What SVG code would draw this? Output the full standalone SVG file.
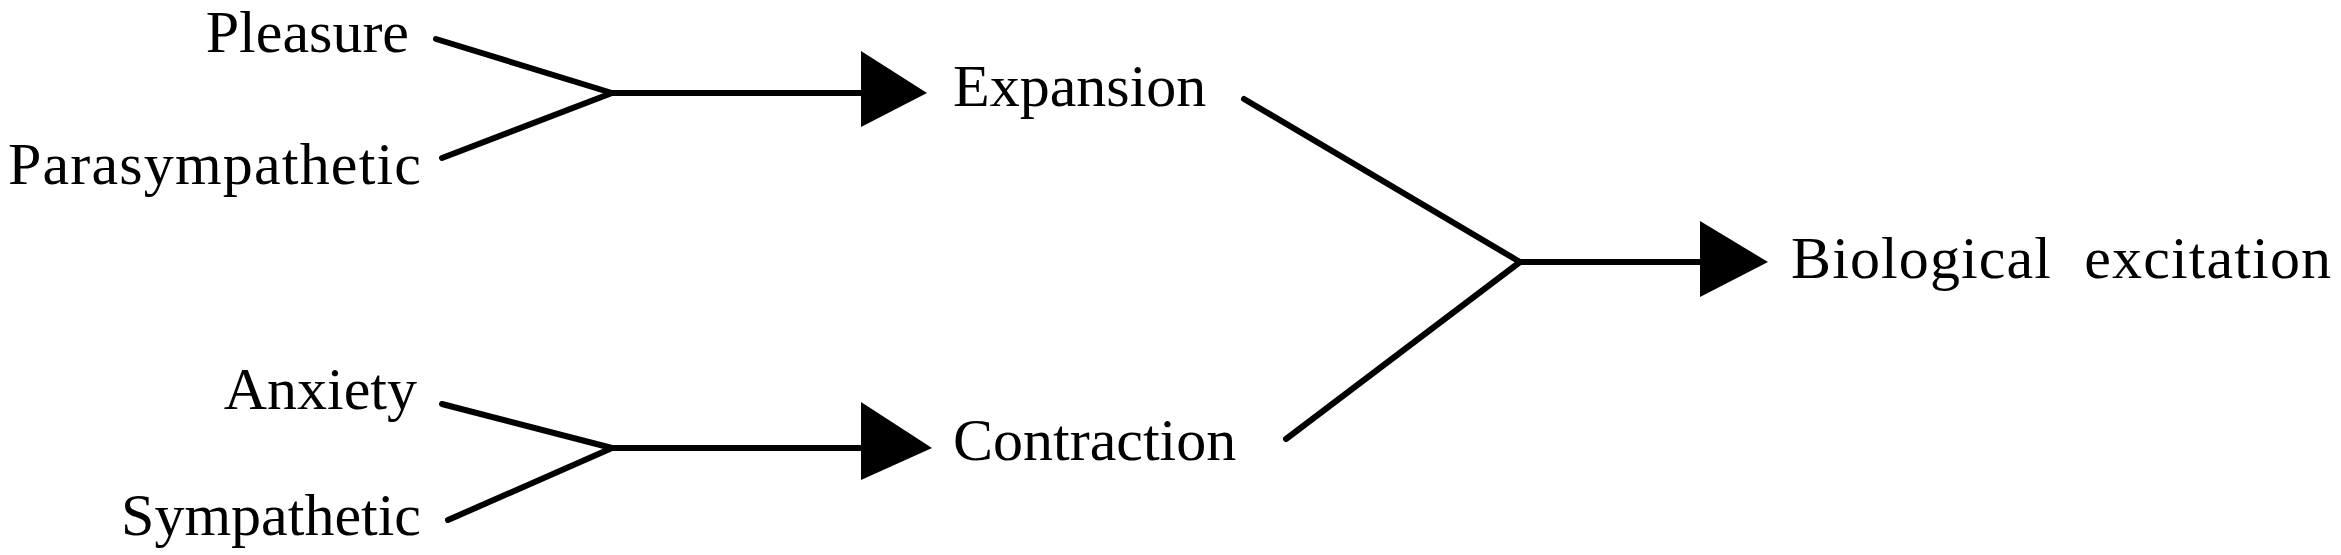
<svg xmlns="http://www.w3.org/2000/svg" width="2341" height="555" viewBox="0 0 2341 555">
<style>
text{font-family:"Liberation Serif","Times New Roman",serif;font-size:60px;fill:#000}
.l{stroke:#000;stroke-width:6;fill:none;stroke-linecap:round;stroke-linejoin:round}
.h{fill:#000}
</style>
<rect width="2341" height="555" fill="#fff"/>
<g id="pleasure"><text x="409" y="52" text-anchor="end">Pleasure</text></g>
<g id="parasympathetic"><text x="421" y="184" text-anchor="end" textLength="413">Parasympathetic</text></g>
<g id="anxiety"><text x="417" y="409" text-anchor="end">Anxiety</text></g>
<g id="sympathetic"><text x="421" y="535" text-anchor="end">Sympathetic</text></g>
<g id="expansion"><text x="953" y="106">Expansion</text></g>
<g id="contraction"><text x="953" y="460">Contraction</text></g>
<g id="biological"><text x="1791" y="278" textLength="540" xml:space="preserve">Biological  excitation</text></g>
<g id="connectors">
<path class="l" d="M436,39 L612,93 L442,158 M612,93 L862,93"/>
<polygon class="h" points="861,51 927,93 861,127"/>
<path class="l" d="M442,404 L612,448 L448,520 M612,448 L862,448"/>
<polygon class="h" points="861,402 932,448 861,480"/>
<path class="l" d="M1244,99 L1520,262 L1286,439 M1520,262 L1701,262"/>
<polygon class="h" points="1700,221 1768,262 1700,297"/>
</g>
</svg>
